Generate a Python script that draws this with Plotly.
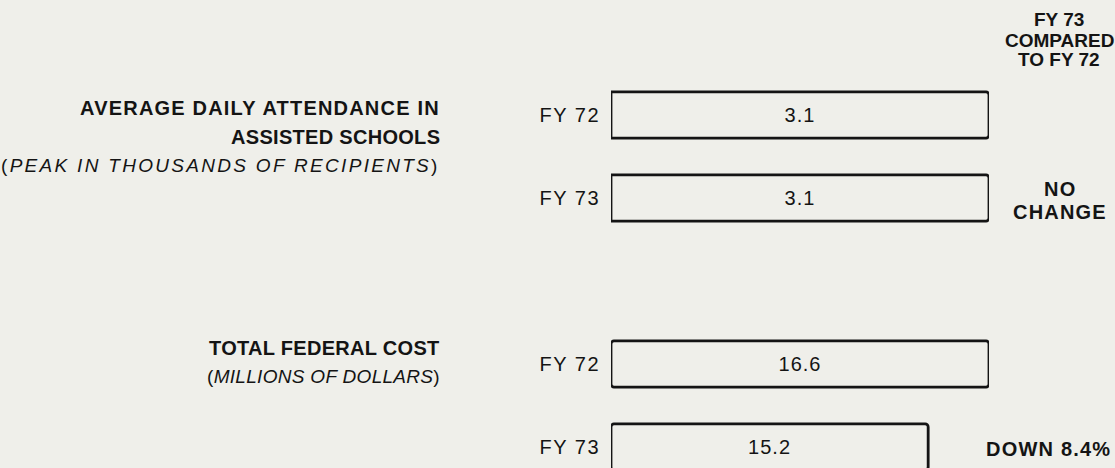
import plotly.graph_objects as go

# ---- data ----
YEARS = ["FY 72", "FY 73"]
ATTENDANCE = [3.1, 3.1]          # peak, thousands of recipients
COST = [16.6, 15.2]              # millions of dollars
ROW_INDEX_ATT = [0, 1]
ROW_INDEX_COST = [3, 4]
ATT_TITLE = ["AVERAGE DAILY ATTENDANCE IN", "ASSISTED SCHOOLS"]
ATT_SUB = "PEAK IN THOUSANDS OF RECIPIENTS"
COST_TITLE = ["TOTAL FEDERAL COST"]
COST_SUB = "MILLIONS OF DOLLARS"
HEADER = ["FY 73", "COMPARED", "TO FY 72"]
ATT_CHANGE = ["NO", "CHANGE"]
COST_CHANGE = "DOWN 8.4%"

# ---- style ----
W, H = 1115, 468
BG = "#efefea"
INK = "#141414"
FONT = "Liberation Sans, Arial, Helvetica, sans-serif"
COST_AXIS_START = 7.9   # scale of the cost panel does not start at zero


def sp(t, ls=2.0):
    return f'<span style="letter-spacing:{ls}px">{t}</span>'


def px_x(x):
    return x / W


def px_y(y):
    return 1 - y / H


fig = go.Figure()

bar_style = dict(
    orientation="h", textposition="inside", insidetextanchor="middle", textangle=0,
    textfont=dict(size=20, color=INK, family=FONT),
    marker=dict(color="rgba(0,0,0,0)", line=dict(color=INK, width=2.8), cornerradius=3),
    width=0.555, cliponaxis=False, hoverinfo="skip",
)

fig.add_trace(go.Bar(
    y=ROW_INDEX_ATT, x=ATTENDANCE,
    text=[sp(f"{v:.1f}", 1.0) for v in ATTENDANCE],
    xaxis="x", yaxis="y", **bar_style,
))
fig.add_trace(go.Bar(
    y=ROW_INDEX_COST, x=[v - COST_AXIS_START for v in COST], base=COST_AXIS_START,
    text=[sp(f"{v:.1f}", 1.0) for v in COST],
    xaxis="x2", yaxis="y", **bar_style,
))

dom = [px_x(611), px_x(989)]
fig.update_layout(
    width=W, height=H, margin=dict(l=0, r=0, t=0, b=0),
    paper_bgcolor=BG, plot_bgcolor=BG, showlegend=False,
    font=dict(family=FONT, color=INK),
    xaxis=dict(domain=dom, range=[0, max(ATTENDANCE)], visible=False, fixedrange=True),
    xaxis2=dict(domain=dom, range=[COST_AXIS_START, max(COST)], visible=False,
                overlaying="x", anchor="y", fixedrange=True),
    yaxis=dict(range=[(H - 115) / 83, -115 / 83], showgrid=False, zeroline=False,
               showline=False, tickvals=ROW_INDEX_ATT + ROW_INDEX_COST,
               ticktext=[sp(y, 1.5) for y in YEARS] * 2, ticklabelstandoff=10,
               tickfont=dict(size=20, color=INK, family=FONT), fixedrange=True),
)

ann = []


def add(text, x, y, xanchor="right", size=20):
    ann.append(dict(text=text, x=px_x(x), y=px_y(y), xref="paper", yref="paper",
                    xanchor=xanchor, yanchor="middle", showarrow=False,
                    font=dict(size=size, color=INK, family=FONT)))


# left titles
add(sp(f"<b>{ATT_TITLE[0]}</b>", 1.2), 442, 108)
add(sp(f"<b>{ATT_TITLE[1]}</b>", 0.3), 442, 137)
add(sp(f"(<i>{ATT_SUB}</i>)", 2.3), 442, 165, size=19)
add(sp(f"<b>{COST_TITLE[0]}</b>", 0.3), 442, 348)
add(sp(f"(<i>{COST_SUB}</i>)", 0.3), 442, 376, size=19)

# right column
for i, t in enumerate(HEADER):
    add(sp(f"<b>{t}</b>", 0.0), 1059, 20 + 20 * i, xanchor="center", size=19)
add(sp(f"<b>{ATT_CHANGE[0]}</b>", 1.2), 1060, 189, xanchor="center")
add(sp(f"<b>{ATT_CHANGE[1]}</b>", 1.2), 1060, 212, xanchor="center")
add(sp(f"<b>{COST_CHANGE}</b>", 1.2), 1113, 449)

fig.update_layout(annotations=ann)
fig.write_html(
    "out.html",
    config={"displayModeBar": False},
    post_script="document.body.style.margin='0';document.body.style.background='%s';" % BG,
)
